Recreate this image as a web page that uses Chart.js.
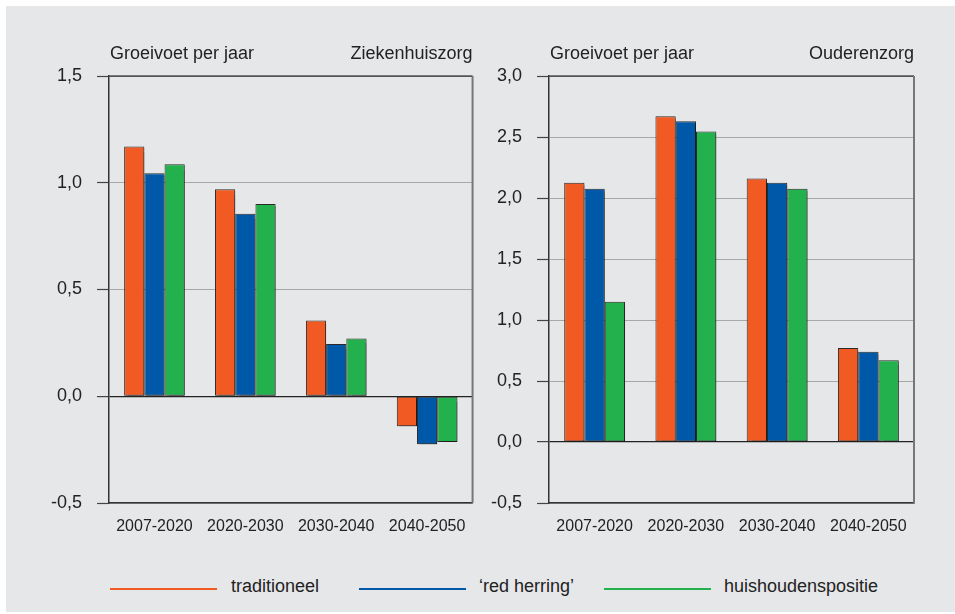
<!DOCTYPE html>
<html>
<head>
<meta charset="utf-8">
<script src="https://cdn.jsdelivr.net/npm/chart.js@4.4.1/dist/chart.umd.min.js"></script>
<style>
  body { margin: 0; background: #fff; font-family: "Liberation Sans", Arial, sans-serif; }
  #bg { position: absolute; left: 6px; top: 6px; width: 949px; height: 606px; background: #e6e7e9; }
  .box { position: absolute; top: 6px; height: 560px; }
  #box1 { left: 6px; width: 474px; }
  #box2 { left: 480px; width: 470px; }
  .leg-line { position: absolute; top: 588px; height: 2px; width: 107px; }
  .leg-text { position: absolute; top: 574px; font-size: 18px; color: #222; line-height: 24px; }
</style>
</head>
<body>
<div id="bg"></div>
<div class="box" id="box1"><canvas id="chart1"></canvas></div>
<div class="box" id="box2"><canvas id="chart2"></canvas></div>

<div class="leg-line" style="left:110px;background:#f15a22"></div>
<div class="leg-text" style="left:231px">traditioneel</div>
<div class="leg-line" style="left:359px;background:#0058a8"></div>
<div class="leg-text" style="left:479px">‘red herring’</div>
<div class="leg-line" style="left:604px;background:#22b14c"></div>
<div class="leg-text" style="left:724px">huishoudenspositie</div>

<script>
const categories = ["2007-2020", "2020-2030", "2030-2040", "2040-2050"];
const seriesNames = ["traditioneel", "‘red herring’", "huishoudenspositie"];

// Ziekenhuiszorg
const zhTraditioneel = [1.17, 0.97, 0.355, -0.14];
const zhRedHerring = [1.045, 0.855, 0.245, -0.225];
const zhHuishouden = [1.087, 0.90, 0.27, -0.214];

// Ouderenzorg
const ozTraditioneel = [2.125, 2.67, 2.16, 0.77];
const ozRedHerring = [2.075, 2.63, 2.125, 0.74];
const ozHuishouden = [1.15, 2.545, 2.075, 0.67];

const zhTicks = [-0.5, 0, 0.5, 1.0, 1.5];
const ozTicks = [-0.5, 0, 0.5, 1.0, 1.5, 2.0, 2.5, 3.0];

const colors = ["#f15a22", "#0058a8", "#22b14c"];
const textColor = "#222";

Chart.defaults.font.family = '"Liberation Sans", Arial, sans-serif';
Chart.defaults.color = textColor;

function fmt(v) {
  return v.toFixed(1).replace(".", ",");
}

// draws the two header texts and the top/right frame of the plot
const framePlugin = {
  id: "frame",
  afterDraw(chart, args, opts) {
    const { ctx, chartArea: a } = chart;
    ctx.save();
    ctx.strokeStyle = "#555";
    ctx.lineWidth = 1.5;
    ctx.beginPath();
    ctx.moveTo(a.left, a.top);
    ctx.lineTo(a.right, a.top);
    ctx.stroke();
    ctx.strokeStyle = "#777";
    ctx.lineWidth = 2;
    ctx.beginPath();
    ctx.moveTo(a.right, a.top);
    ctx.lineTo(a.right, a.bottom);
    ctx.stroke();

    ctx.fillStyle = textColor;
    ctx.font = '18px "Liberation Sans", Arial, sans-serif';
    ctx.textBaseline = "middle";
    ctx.textAlign = "left";
    ctx.fillText(opts.left, a.left + 1, a.top - 22);
    ctx.textAlign = "right";
    ctx.fillText(opts.right, a.right, a.top - 22);
    ctx.restore();
  }
};

const shadowPlugin = {
  id: "barShadow",
  beforeDatasetsDraw(chart) {
    const ctx = chart.ctx;
    ctx.save();
    ctx.shadowColor = "rgba(0,0,0,0.35)";
    ctx.shadowOffsetX = 2;
    ctx.shadowOffsetY = 2;
    ctx.shadowBlur = 1;
  },
  afterDatasetsDraw(chart) {
    chart.ctx.restore();
  }
};

function makeChart(id, data, ticks, yWidth, padRight, leftTitle, rightTitle) {
  const ctx = document.getElementById(id).getContext("2d");
  return new Chart(ctx, {
    type: "bar",
    data: {
      labels: categories,
      datasets: data.map((vals, i) => ({
        label: seriesNames[i],
        data: vals,
        backgroundColor: colors[i],
        borderColor: "#2a2a2a",
        borderWidth: 1,
        borderSkipped: false,
        barPercentage: 1.0,
        categoryPercentage: 0.667
      }))
    },
    options: {
      responsive: true,
      maintainAspectRatio: false,
      animation: false,
      layout: { padding: { left: 0, top: 70, right: padRight, bottom: 23 } },
      plugins: {
        legend: { display: false },
        tooltip: { enabled: false },
        frame: { left: leftTitle, right: rightTitle }
      },
      scales: {
        x: {
          grid: { display: false, drawTicks: false },
          border: { color: "#333", width: 1.5 },
          ticks: { font: { size: 16 }, color: textColor, padding: 14, maxRotation: 0 },
          afterFit(scale) { scale.height = 40; }
        },
        y: {
          min: ticks[0],
          max: ticks[ticks.length - 1],
          afterBuildTicks(scale) {
            scale.ticks = ticks.map((v) => ({ value: v }));
          },
          grid: {
            color: (c) => (c.tick && c.tick.value === 0 ? "#222" : (c.tick && c.tick.value === ticks[ticks.length - 1] ? "#555" : "#a8a8a8")),
            lineWidth: (c) => (c.tick && c.tick.value === 0 ? 1.2 : 1),
            tickColor: "#444",
            tickLength: 12,
            tickWidth: 1.2
          },
          border: { color: "#333", width: 1.5 },
          ticks: {
            font: { size: 18 },
            color: textColor,
            padding: 15,
            callback: (v) => fmt(v)
          },
          afterFit(scale) { scale.width = yWidth; }
        }
      }
    },
    plugins: [framePlugin, shadowPlugin]
  });
}

makeChart("chart1", [zhTraditioneel, zhRedHerring, zhHuishouden], zhTicks, 103, 5,
  "Groeivoet per jaar", "Ziekenhuiszorg");
makeChart("chart2", [ozTraditioneel, ozRedHerring, ozHuishouden], ozTicks, 69, 36,
  "Groeivoet per jaar", "Ouderenzorg");
</script>
</body>
</html>
